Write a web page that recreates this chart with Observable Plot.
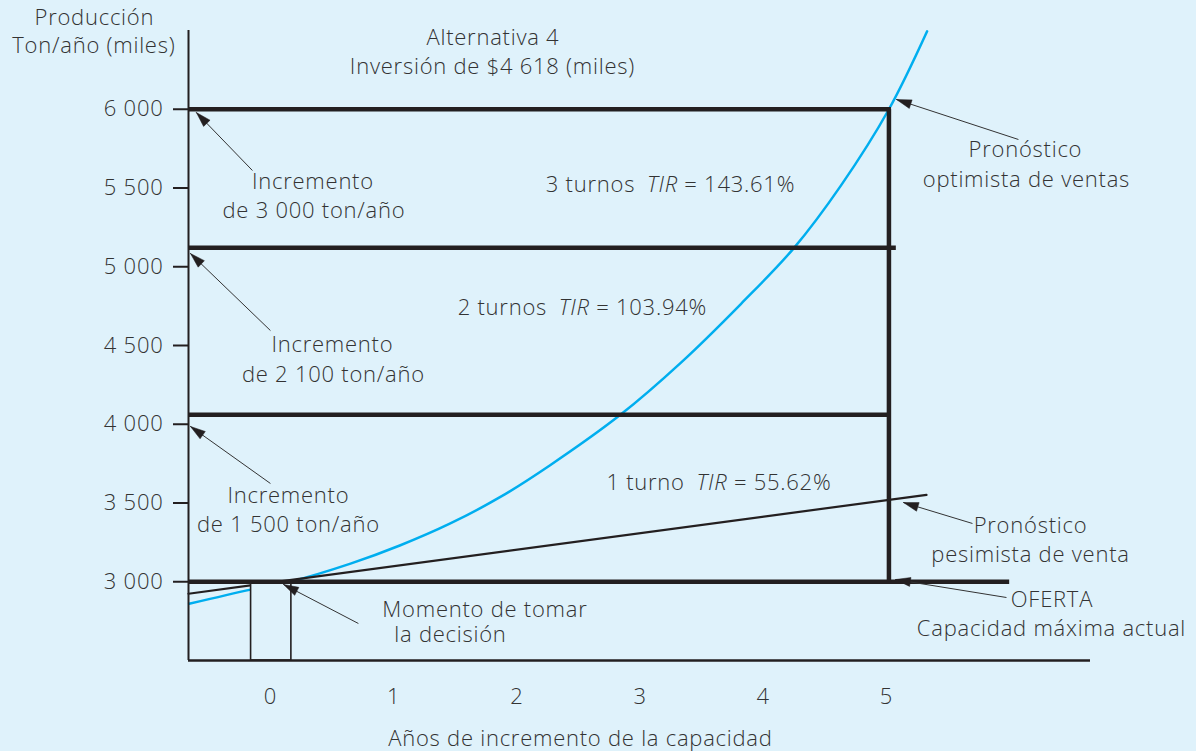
<!DOCTYPE html>
<html>
<head>
<meta charset="utf-8">
<script src="https://cdn.jsdelivr.net/npm/d3@7"></script>
<script src="https://cdn.jsdelivr.net/npm/@observablehq/plot@0.6"></script>
<style>
  html, body { margin: 0; padding: 0; background: #dff2fb; }
  #chart { width: 1196px; height: 751px; overflow: hidden; }
  svg text { letter-spacing: 0.75px; }
  svg [aria-label="y-axis tick"] { stroke-width: 2px; }
  svg .tick line { stroke-width: 2px; }
</style>
</head>
<body>
<div id="chart"></div>
<script>
// ---------- data ----------
const yearTicks = [0, 1, 2, 3, 4, 5];
const prodTicks = [3000, 3500, 4000, 4500, 5000, 5500, 6000];

// optimistic sales forecast (blue curve)
const optYears = [-0.66, -0.16, 0.16, 0.65, 1.05, 1.46, 1.87, 2.27, 2.84, 3.33, 3.82, 4.25, 4.63, 5.02, 5.33];
const optProd  = [2860, 2950, 3000, 3115, 3230, 3370, 3540, 3740, 4060, 4390, 4765, 5120, 5515, 6000, 6495];

// pessimistic sales forecast (straight black line)
const pesYears = [-0.665, 5.325];
const pesProd  = [2924, 3552];

// capacity levels (thick steps)
const capLevels = [3000, 4060, 5120, 6000];
const capEnds   = [6.0, 5.04, 5.08, 5.04];
const stepYear  = 5.02;

// decision moment box
const boxYears = [-0.157, 0.17];
const boxProd  = [2500, 3000];

// annotation arrows (tail -> tip)
const arrowTailX = [-0.146, 0.0, 0.0, 0.714, 6.071, 5.698, 5.974];
const arrowTailY = [5611, 4595, 3624, 2735, 5808, 3370, 2900];
const arrowTipX  = [-0.601, -0.649, -0.649, 0.106, 5.081, 5.138, 5.073];
const arrowTipY  = [5979, 5084, 3986, 2983, 6062, 3503, 3014];

// text labels
const labelText = [
  "Alternativa 4", "Inversión de $4 618 (miles)",
  "Incremento", "de 3 000 ton/año",
  "3 turnos\u2002TIR = 143.61%",
  "Incremento", "de 2 100 ton/año",
  "2 turnos\u2002TIR = 103.94%",
  "Incremento", "de 1 500 ton/año",
  "1 turno\u2002TIR = 55.62%",
  "Momento de tomar", "la decisión",
  "Pronóstico", "optimista de ventas",
  "Pronóstico", "pesimista de venta",
  "OFERTA", "Capacidad máxima actual",
  "Producción", "Ton/año (miles)",
  "Años de incremento de la capacidad"
];
const labelX = [1.806, 1.802, 0.345, 0.353, 3.247, 0.503, 0.511, 2.532, 0.146, 0.146, 3.640,
                1.741, 1.461, 6.128, 6.136, 6.169, 6.169, 6.343, 6.339, -1.429, -1.433, 2.516];
const labelY = [6452, 6268, 5538, 5357, 5519, 4503, 4310, 4741, 3544, 3363, 3627,
                2820, 2660, 5741, 5551, 3357, 3170, 2884, 2703, 6579, 6401, 2003];

// ---------- layout ----------
const W = 1196, H = 751, mL = 188, mR = 106, mT = 30, mB = 91;
const xDomain = [-0.665, 6.656], yDomain = [2500, 6500];
const sx = d3.scaleLinear(xDomain, [mL, W - mR]);
const sy = d3.scaleLinear(yDomain, [H - mB, mT]);
const ink = "#231f20", textInk = "#333333", bg = "#dff2fb", blue = "#00aeef";

const opt = optYears.map((x, i) => ({x, y: optProd[i]}));
const pes = pesYears.map((x, i) => ({x, y: pesProd[i]}));
const caps = capLevels.map((y, i) => ({y, x1: xDomain[0], x2: capEnds[i]}));
const box = [{x1: boxYears[0], x2: boxYears[1], y1: boxProd[0], y2: boxProd[1]}];
const arrows = arrowTailX.map((x, i) => ({x1: x, y1: arrowTailY[i], x2: arrowTipX[i], y2: arrowTipY[i]}));
const labels = labelText.map((t, i) => ({t, x: labelX[i], y: labelY[i]}));

// filled arrow heads derived from arrow data (computed in pixel space, mapped back)
const headLen = 15, headHalf = 4.5;
const heads = [];
arrows.forEach((a, i) => {
  const ax = sx(a.x1), ay = sy(a.y1), tx = sx(a.x2), ty = sy(a.y2);
  const d = Math.hypot(tx - ax, ty - ay), ux = (tx - ax) / d, uy = (ty - ay) / d;
  const bx = tx - ux * headLen, by = ty - uy * headLen;
  const px = -uy, py = ux;
  [[tx, ty], [bx + px * headHalf, by + py * headHalf], [bx - px * headHalf, by - py * headHalf], [tx, ty]]
    .forEach(([X, Y]) => heads.push({id: i, x: sx.invert(X), y: sy.invert(Y)}));
});

const chart = Plot.plot({
  width: W, height: H,
  marginLeft: mL, marginRight: mR, marginTop: mT, marginBottom: mB,
  style: {background: "transparent", color: ink, fontFamily: "'Open Sans', sans-serif", fontSize: "22px", fontWeight: 300},
  x: {domain: xDomain, ticks: yearTicks, tickSize: 0, tickPadding: 28, tickFormat: d => String(d), label: null},
  y: {domain: yDomain, ticks: prodTicks, tickSize: 15, tickPadding: 10,
      tickFormat: d => d3.format(",")(d).replace(",", " "), label: null},
  marks: [
    Plot.line(opt, {x: "x", y: "y", stroke: blue, strokeWidth: 2.5, curve: "catmull-rom"}),
    Plot.line(pes, {x: "x", y: "y", stroke: ink, strokeWidth: 2.2}),
    Plot.rect(box, {x1: "x1", x2: "x2", y1: "y1", y2: "y2", fill: bg, stroke: ink, strokeWidth: 1.6}),
    Plot.ruleX([xDomain[0]], {stroke: ink, strokeWidth: 2}),
    Plot.ruleY([yDomain[0]], {stroke: ink, strokeWidth: 2.5}),
    Plot.ruleY(caps, {y: "y", x1: "x1", x2: "x2", stroke: ink, strokeWidth: 4.5}),
    Plot.ruleX([stepYear], {y1: capLevels[0], y2: capLevels[3], stroke: ink, strokeWidth: 4.5}),
    Plot.link(arrows, {x1: "x1", y1: "y1", x2: "x2", y2: "y2", stroke: textInk, strokeWidth: 1}),
    Plot.line(heads, {x: "x", y: "y", z: "id", fill: ink, stroke: ink, strokeWidth: 0.5, curve: "linear"}),
    Plot.text(labels, {x: "x", y: "y", text: "t", textAnchor: "middle", fill: textInk, fontSize: 22})
  ]
});

// italic "TIR"
chart.querySelectorAll("text").forEach(t => {
  if (t.children.length === 0 && t.textContent.includes("TIR")) {
    const [before, after] = t.textContent.split("TIR");
    t.textContent = "";
    const ns = "http://www.w3.org/2000/svg";
    const a = document.createElementNS(ns, "tspan"); a.textContent = before;
    const b = document.createElementNS(ns, "tspan"); b.textContent = "TIR"; b.setAttribute("font-style", "italic");
    const c = document.createElementNS(ns, "tspan"); c.textContent = after;
    t.append(a, b, c);
  }
});
chart.querySelectorAll("text").forEach(t => t.setAttribute("fill", textInk));
document.getElementById("chart").append(chart);
</script>
</body>
</html>
